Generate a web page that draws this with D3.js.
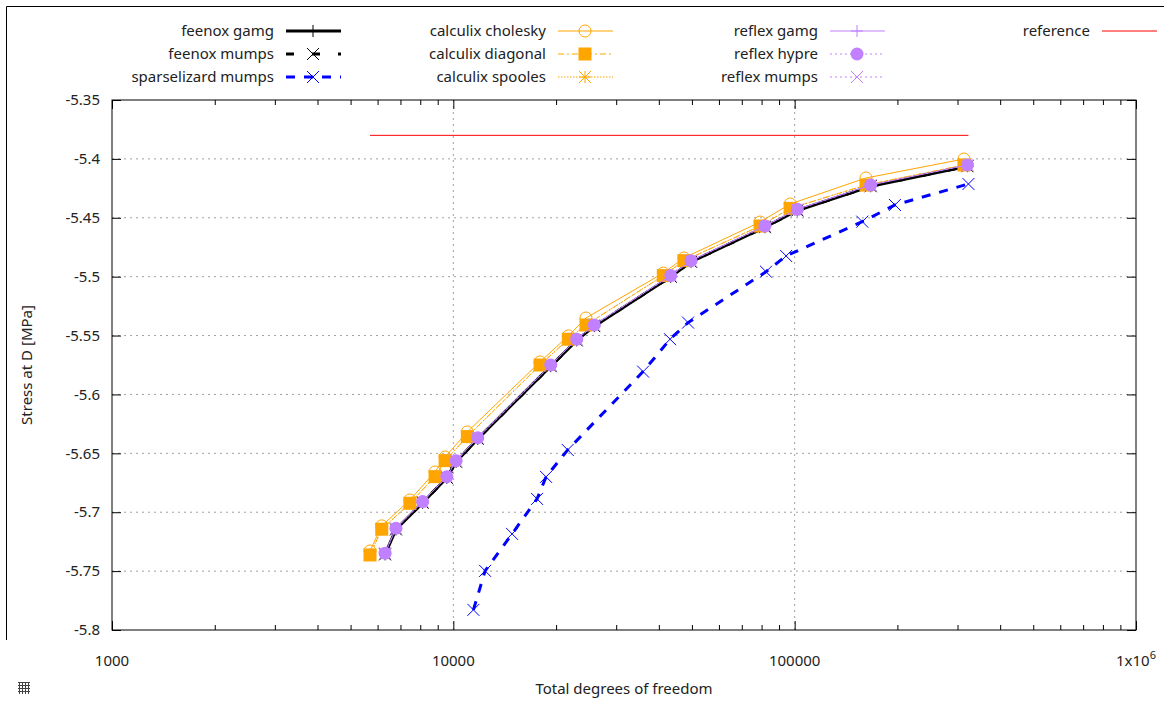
<!DOCTYPE html>
<html>
<head>
<meta charset="utf-8">
<script src="https://cdn.jsdelivr.net/npm/d3@7"></script>
<style>
  body { margin: 0; background: #fff; }
  svg { display: block; font-family: "Noto Sans", sans-serif; }
</style>
</head>
<body>
<svg id="chart" width="1164" height="702"></svg>
<script>
// data
const feenoxDofs = [6310, 6790, 8130, 9570, 10190, 11790, 19290, 22990, 25880, 43350, 49710, 81840, 101800, 167000, 320800];
const feenoxGamgStress = [-5.7358, -5.7146, -5.6920, -5.6708, -5.6572, -5.6377, -5.5760, -5.5541, -5.5420, -5.5001, -5.4874, -5.4580, -5.4438, -5.4232, -5.4062];
const feenoxMumpsStress = [-5.7358, -5.7146, -5.6920, -5.6708, -5.6572, -5.6377, -5.5760, -5.5541, -5.5420, -5.5001, -5.4874, -5.4580, -5.4438, -5.4232, -5.4062];

const sparselizardDofs = [11450, 12390, 14860, 17590, 18690, 21630, 35970, 43150, 48720, 82430, 94400, 157800, 196700, 322900];
const sparselizardStress = [-5.7829, -5.7498, -5.7184, -5.6887, -5.6700, -5.6471, -5.5806, -5.5531, -5.5390, -5.4958, -5.4824, -5.4533, -5.4391, -5.4213];

const calculixDofs = [5700, 6170, 7460, 8840, 9460, 10990, 17950, 21720, 24470, 41230, 47390, 79200, 97000, 161800, 313300];
const calculixCholeskyStress = [-5.7329, -5.7116, -5.6896, -5.6658, -5.6531, -5.6318, -5.5724, -5.5503, -5.5351, -5.4969, -5.4841, -5.4536, -5.4383, -5.4162, -5.4001];
const calculixDiagonalStress = [-5.7363, -5.7144, -5.6924, -5.6698, -5.6562, -5.6358, -5.5750, -5.5531, -5.5410, -5.4991, -5.4864, -5.4570, -5.4420, -5.4222, -5.4052];
const calculixSpoolesStress = [-5.7363, -5.7144, -5.6924, -5.6698, -5.6562, -5.6358, -5.5750, -5.5531, -5.5410, -5.4991, -5.4864, -5.4570, -5.4420, -5.4222, -5.4052];

const reflexDofs = [6310, 6790, 8130, 9570, 10190, 11790, 19290, 22990, 25880, 43350, 49710, 81840, 101800, 167000, 320800];
const reflexGamgStress = [-5.7348, -5.7136, -5.6910, -5.6698, -5.6562, -5.6367, -5.5750, -5.5531, -5.5410, -5.4991, -5.4864, -5.4570, -5.4428, -5.4222, -5.4052];
const reflexHypreStress = [-5.7348, -5.7136, -5.6910, -5.6698, -5.6562, -5.6367, -5.5750, -5.5531, -5.5410, -5.4991, -5.4864, -5.4570, -5.4428, -5.4222, -5.4052];
const reflexMumpsStress = [-5.7348, -5.7136, -5.6910, -5.6698, -5.6562, -5.6367, -5.5750, -5.5531, -5.5410, -5.4991, -5.4864, -5.4570, -5.4428, -5.4222, -5.4052];

const referenceDofs = [5700, 322900];
const referenceStress = [-5.38, -5.38];

const xTicks = [1000, 10000, 100000, 1000000];
const xTickLabels = ["1000", "10000", "100000", "1x10^6"];
const yTicks = [-5.8, -5.75, -5.7, -5.65, -5.6, -5.55, -5.5, -5.45, -5.4, -5.35];
const yTickLabels = ["-5.8", "-5.75", "-5.7", "-5.65", "-5.6", "-5.55", "-5.5", "-5.45", "-5.4", "-5.35"];

// styles
const orange = "#ffa500", purple = "#c080ff";
const series = [
  {name: "feenox gamg", x: feenoxDofs, y: feenoxGamgStress, color: "#000", width: 3, dash: null, mark: "plus"},
  {name: "feenox mumps", x: feenoxDofs, y: feenoxMumpsStress, color: "#000", width: 3, dash: "8,18", mark: "cross"},
  {name: "sparselizard mumps", x: sparselizardDofs, y: sparselizardStress, color: "#0000ff", width: 3, dash: "9,9", mark: "cross"},
  {name: "calculix cholesky", x: calculixDofs, y: calculixCholeskyStress, color: orange, width: 1, dash: null, mark: "circle"},
  {name: "calculix diagonal", x: calculixDofs, y: calculixDiagonalStress, color: orange, width: 1, dash: "6,3,2,3", mark: "square"},
  {name: "calculix spooles", x: calculixDofs, y: calculixSpoolesStress, color: orange, width: 1, dash: "1.5,1.5", mark: "star"},
  {name: "reflex gamg", x: reflexDofs, y: reflexGamgStress, color: purple, width: 1, dash: null, mark: "plus"},
  {name: "reflex hypre", x: reflexDofs, y: reflexHypreStress, color: purple, width: 1, dash: "2,3", mark: "dot"},
  {name: "reflex mumps", x: reflexDofs, y: reflexMumpsStress, color: purple, width: 1, dash: "2,3", mark: "cross"},
  {name: "reference", x: referenceDofs, y: referenceStress, color: "#ff0000", width: 1, dash: null, mark: null}
];

const margin = {left: 112, right: 28, top: 100, bottom: 72};
const W = 1164, H = 702;

const svg = d3.select("#chart");
svg.append("rect").attr("width", W).attr("height", H).attr("fill", "#fff");

// outer frame of the canvas
svg.append("path").attr("d", "M6.5,640V6.5H1164").attr("fill", "none").attr("stroke", "#000");

const x = d3.scaleLog().domain([1000, 1e6]).range([margin.left, W - margin.right]);
const y = d3.scaleLinear().domain([-5.8, -5.35]).range([H - margin.bottom, margin.top]);

const x0 = margin.left, x1 = W - margin.right, y0 = H - margin.bottom, y1 = margin.top;

// grid
const grid = svg.append("g").attr("stroke", "#a0a0a0").attr("stroke-dasharray", "2,4").attr("fill", "none");
xTicks.slice(1, -1).forEach(t => {
  grid.append("line").attr("x1", x(t)).attr("x2", x(t)).attr("y1", y0).attr("y2", y1);
});
yTicks.slice(1, -1).forEach(t => {
  grid.append("line").attr("x1", x0).attr("x2", x1).attr("y1", y(t)).attr("y2", y(t));
});

// axes: ticks inward, mirrored
const minorX = [];
[1000, 10000, 100000].forEach(d => { for (let k = 2; k < 10; k++) minorX.push(d * k); });

const addAxis = (axis, tr) => {
  const g = svg.append("g").attr("transform", tr).call(axis);
  g.select(".domain").remove();
  g.selectAll("text").remove();
  g.selectAll("line").attr("stroke", "#000");
  return g;
};
addAxis(d3.axisBottom(x).tickValues(xTicks).tickSize(-9), `translate(0,${y0})`);
addAxis(d3.axisBottom(x).tickValues(minorX).tickSize(-5), `translate(0,${y0})`);
addAxis(d3.axisTop(x).tickValues(xTicks).tickSize(-9), `translate(0,${y1})`);
addAxis(d3.axisTop(x).tickValues(minorX).tickSize(-5), `translate(0,${y1})`);
addAxis(d3.axisLeft(y).tickValues(yTicks).tickSize(-9), `translate(${x0},0)`);
addAxis(d3.axisRight(y).tickValues(yTicks).tickSize(-9), `translate(${x1},0)`);

svg.append("rect").attr("x", x0).attr("y", y1).attr("width", x1 - x0).attr("height", y0 - y1)
  .attr("fill", "none").attr("stroke", "#000");

// tick labels
const txt = svg.append("g").attr("font-size", 15).attr("fill", "#222");
yTicks.forEach((t, i) => {
  txt.append("text").attr("x", x0 - 12).attr("y", y(t)).attr("dy", "0.35em")
    .attr("text-anchor", "end").text(yTickLabels[i]);
});
xTicks.forEach((t, i) => {
  const lab = xTickLabels[i];
  const el = txt.append("text").attr("x", x(t)).attr("y", y0 + 36).attr("text-anchor", "middle");
  if (lab.includes("^")) {
    const [base, sup] = lab.split("^");
    el.append("tspan").text(base);
    el.append("tspan").attr("dy", -7).attr("font-size", 11).text(sup);
  } else {
    el.text(lab);
  }
});

txt.append("text").attr("x", (x0 + x1) / 2).attr("y", 694).attr("text-anchor", "middle")
  .text("Total degrees of freedom");
txt.append("text").attr("transform", `translate(32,${(y0 + y1) / 2}) rotate(-90)`)
  .attr("text-anchor", "middle").text("Stress at D [MPa]");

// markers
const drawMark = (g, kind, cx, cy, color) => {
  const s = 6;
  if (kind === "plus") {
    g.append("path").attr("d", `M${cx - s},${cy}H${cx + s}M${cx},${cy - s}V${cy + s}`)
      .attr("stroke", color).attr("stroke-width", 1).attr("fill", "none");
  } else if (kind === "cross") {
    g.append("path").attr("d", `M${cx - s},${cy - s}L${cx + s},${cy + s}M${cx - s},${cy + s}L${cx + s},${cy - s}`)
      .attr("stroke", color).attr("stroke-width", 1).attr("fill", "none");
  } else if (kind === "star") {
    g.append("path").attr("d", `M${cx - s},${cy}H${cx + s}M${cx},${cy - s}V${cy + s}M${cx - s},${cy - s}L${cx + s},${cy + s}M${cx - s},${cy + s}L${cx + s},${cy - s}`)
      .attr("stroke", color).attr("stroke-width", 1).attr("fill", "none");
  } else if (kind === "circle") {
    g.append("circle").attr("cx", cx).attr("cy", cy).attr("r", 6)
      .attr("stroke", color).attr("stroke-width", 1).attr("fill", "none");
  } else if (kind === "square") {
    g.append("rect").attr("x", cx - 6.5).attr("y", cy - 6.5).attr("width", 13).attr("height", 13)
      .attr("fill", color);
  } else if (kind === "dot") {
    g.append("circle").attr("cx", cx).attr("cy", cy).attr("r", 6.5).attr("fill", color);
  }
};

// series
const line = d3.line().x(d => x(d[0])).y(d => y(d[1]));
const plot = svg.append("g");
series.forEach(s => {
  const pts = s.x.map((v, i) => [v, s.y[i]]);
  const g = plot.append("g");
  g.append("path").attr("d", line(pts)).attr("fill", "none")
    .attr("stroke", s.color).attr("stroke-width", s.width)
    .attr("stroke-dasharray", s.dash);
  if (s.mark) pts.forEach(p => drawMark(g, s.mark, x(p[0]), y(p[1]), s.color));
});

// legend: 4 columns x 3 rows
const legCols = [274, 546, 818, 1090];
const legRows = [31, 54, 77];
const leg = svg.append("g");
series.forEach((s, i) => {
  const col = Math.floor(i / 3), row = i % 3;
  const tx = legCols[col], ty = legRows[row];
  leg.append("text").attr("x", tx).attr("y", ty).attr("dy", "0.35em").attr("text-anchor", "end")
    .attr("font-size", 15).attr("fill", "#222").text(s.name);
  leg.append("line").attr("x1", tx + 12).attr("x2", tx + 67).attr("y1", ty).attr("y2", ty)
    .attr("stroke", s.color).attr("stroke-width", s.width).attr("stroke-dasharray", s.dash);
  if (s.mark) drawMark(leg, s.mark, tx + 39, ty, s.color);
});

// grid toggle icon bottom-left
const icon = svg.append("g").attr("stroke", "#444").attr("stroke-width", 1);
for (let k = 0; k < 4; k++) {
  icon.append("line").attr("x1", 19.5 + k * 3).attr("x2", 19.5 + k * 3).attr("y1", 682).attr("y2", 694);
  icon.append("line").attr("y1", 682.5 + k * 3).attr("y2", 682.5 + k * 3).attr("x1", 18).attr("x2", 30);
}
</script>
</body>
</html>
